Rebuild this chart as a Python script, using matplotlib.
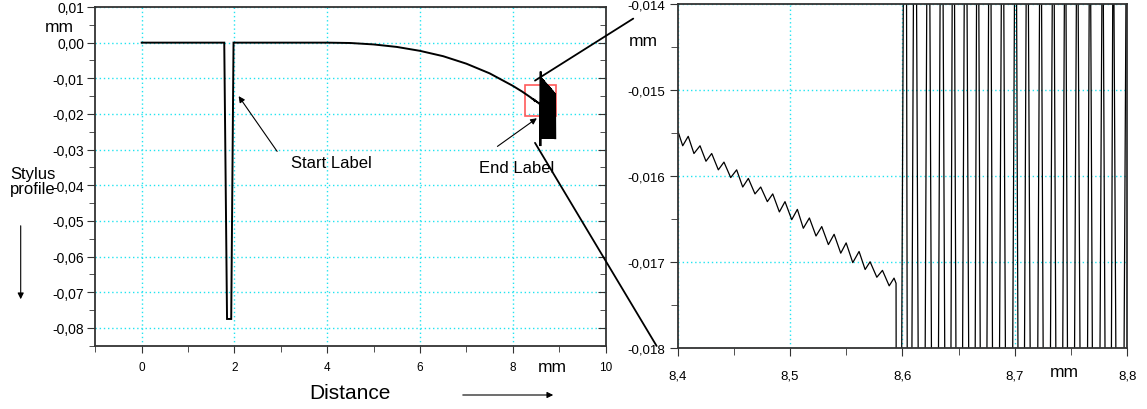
import matplotlib
matplotlib.use("Agg")
import matplotlib.pyplot as plt
from matplotlib.patches import Rectangle, ConnectionPatch
from matplotlib.ticker import FuncFormatter, MultipleLocator

plt.rcParams['font.family'] = ['Liberation Sans', 'DejaVu Sans']

# Profile data (mm)
start_x = [0.0, 1.78, 1.84, 1.93, 1.98, 4.0]
start_y = [0.0, 0.0, -0.0775, -0.0775, 0.0, 0.0]

curve_x = [4.5, 5.0, 5.5, 6.0, 6.5, 7.0, 7.5, 8.0, 8.2]
curve_y = [-0.0001, -0.0005, -0.0012, -0.0023, -0.0038, -0.0059, -0.0086, -0.0121, -0.0137]

ripple_x = [8.4005, 8.4045, 8.4094, 8.4145, 8.4199, 8.4252, 8.4303, 8.4362, 8.4412, 8.4472,
            8.4525, 8.4579, 8.4629, 8.4688, 8.4739, 8.4798, 8.4846, 8.4905, 8.4955, 8.5015,
            8.5065, 8.5118, 8.5172, 8.5231, 8.5282, 8.5341, 8.5392, 8.5451, 8.5499, 8.5558,
            8.5614, 8.5668, 8.5712, 8.5772, 8.5822, 8.5882, 8.5925, 8.5943]
ripple_y = [-0.01549, -0.01565, -0.01554, -0.01574, -0.01565, -0.01583, -0.01574, -0.01593,
            -0.01584, -0.01602, -0.01593, -0.01613, -0.01603, -0.01621, -0.01613, -0.01630,
            -0.01621, -0.01642, -0.01630, -0.01651, -0.01639, -0.01661, -0.01649, -0.01670,
            -0.01659, -0.01680, -0.01668, -0.01690, -0.01678, -0.01701, -0.01688, -0.01709,
            -0.01700, -0.01718, -0.01710, -0.01728, -0.01719, -0.01725]

drop_x = [8.5955]
drop_y = [-0.0290]

# end zone: fast oscillation between an upper and a lower envelope
tail_hi_x = [8.6028, 8.6111, 8.6230, 8.6348, 8.6452, 8.6562, 8.6669, 8.6778, 8.6891, 8.7007,
             8.7110, 8.7229, 8.7342, 8.7448, 8.7555, 8.7668, 8.7781, 8.7875, 8.7994, 8.811,
             8.822, 8.833, 8.844, 8.855, 8.867, 8.878, 8.889, 8.900, 8.911]
tail_hi_y = [-0.0081, -0.0098, -0.0100, -0.0102, -0.0103, -0.0105, -0.0106, -0.0108, -0.0110,
             -0.0112, -0.0113, -0.0115, -0.0116, -0.0118, -0.0120, -0.0121, -0.0123, -0.0124,
             -0.0126, -0.0128, -0.0129, -0.0131, -0.0133, -0.0134, -0.0136, -0.0138, -0.0140,
             -0.0141, -0.0143]
tail_lo_x = [8.6055, 8.6171, 8.6289, 8.6408, 8.6503, 8.6621, 8.6719, 8.6829, 8.6947, 8.7054,
             8.7170, 8.7282, 8.7395, 8.7496, 8.7615, 8.7721, 8.7834, 8.7935, 8.805, 8.816,
             8.828, 8.839, 8.850, 8.861, 8.872, 8.883, 8.894, 8.906, 8.917]
tail_lo_y = [-0.0270, -0.0270, -0.0270, -0.0269, -0.0269, -0.0269, -0.0269, -0.0269, -0.0269,
             -0.0268, -0.0268, -0.0268, -0.0268, -0.0268, -0.0268, -0.0268, -0.0268, -0.0268,
             -0.0268, -0.0268, -0.0268, -0.0268, -0.0268, -0.0268, -0.0268, -0.0268, -0.0268,
             -0.0268, -0.0268]

tail = sorted(zip(tail_hi_x + tail_lo_x, tail_hi_y + tail_lo_y))
profile_x = start_x + curve_x + ripple_x + drop_x + [p[0] for p in tail]
profile_y = start_y + curve_y + ripple_y + drop_y + [p[1] for p in tail]

GRID = '#22e4f0'
SPINE = '#333333'

def comma(fmt):
    def f(v, pos):
        s = format(v, fmt).replace('.', ',')
        if s.startswith('-') and s.strip('-0,') == '':
            s = s[1:]
        return s
    return FuncFormatter(f)

def style(ax):
    for s in ax.spines.values():
        s.set_color(SPINE)
        s.set_linewidth(1.3)
    ax.grid(True, which='major', color=GRID, linestyle=(0, (1, 2)), linewidth=1.0)
    ax.set_axisbelow(True)

fig = plt.figure(figsize=(11.47, 4.10), dpi=100)

# ---- left: whole profile ----
ax1 = fig.add_axes([0.0831, 0.1544, 0.4448, 0.8261])
ax1.plot(profile_x, profile_y, color='black', lw=1.4, solid_joinstyle='miter')
ax1.set_xlim(-1, 10)
ax1.set_ylim(-0.085, 0.01)
ax1.xaxis.set_major_locator(MultipleLocator(2))
ax1.xaxis.set_minor_locator(MultipleLocator(1))
ax1.yaxis.set_major_locator(MultipleLocator(0.01))
ax1.yaxis.set_minor_locator(MultipleLocator(0.005))
ax1.yaxis.set_major_formatter(comma('.2f'))
ax1.tick_params(axis='y', which='both', direction='out', left=True, right=True,
                labelsize=10, pad=2, color=SPINE)
ax1.tick_params(axis='y', which='major', length=6)
ax1.tick_params(axis='y', which='minor', length=4)
ax1.tick_params(axis='x', which='both', direction='out', labelsize=8.5, pad=6, color=SPINE)
ax1.tick_params(axis='x', which='major', length=5)
ax1.tick_params(axis='x', which='minor', length=4)
for t in ax1.yaxis.get_ticklines(minor=False)[1::2] + ax1.yaxis.get_ticklines(minor=True)[1::2]:
    t.set_marker(matplotlib.lines.TICKLEFT)
style(ax1)

ax1.add_patch(Rectangle((8.27, -0.0206), 0.66, 0.0088, fill=False,
                        edgecolor='#ff5a5a', lw=1.2, zorder=1))

arrow = dict(arrowstyle='-|>', color='black', lw=0.8, mutation_scale=9, shrinkA=0, shrinkB=0)
ax1.annotate('', xy=(2.09, -0.0150), xytext=(2.92, -0.0305), arrowprops=arrow)
ax1.text(4.09, -0.0337, 'Start Label', fontsize=12, ha='center', va='center')
ax1.annotate('', xy=(8.52, -0.0212), xytext=(7.67, -0.0291), arrowprops=arrow)
ax1.text(8.09, -0.0351, 'End Label', fontsize=12, ha='center', va='center')

# ---- right: zoom on end of profile ----
ax2 = fig.add_axes([0.5908, 0.1495, 0.392, 0.8383])
ax2.plot(profile_x, profile_y, color='black', lw=0.9)
ax2.set_xlim(8.4, 8.8)
ax2.set_ylim(-0.018, -0.014)
ax2.xaxis.set_major_locator(MultipleLocator(0.1))
ax2.xaxis.set_minor_locator(MultipleLocator(0.05))
ax2.yaxis.set_major_locator(MultipleLocator(0.001))
ax2.yaxis.set_minor_locator(MultipleLocator(0.0005))
ax2.xaxis.set_major_formatter(comma('.1f'))
ax2.yaxis.set_major_formatter(comma('.3f'))
ax2.tick_params(axis='both', which='both', direction='out', labelsize=9.5, color=SPINE)
ax2.tick_params(axis='both', which='major', length=6)
ax2.tick_params(axis='both', which='minor', length=5)
ax2.tick_params(axis='x', pad=10)
ax2.tick_params(axis='y', pad=3)
style(ax2)

# connector lines between the panels
for ya, yb in [(-0.01064, -0.01417), (-0.0281, -0.01798)]:
    xb = 8.3605 if ya > -0.02 else 8.3813
    con = ConnectionPatch(xyA=(8.48, ya), coordsA=ax1.transData,
                          xyB=(xb, yb), coordsB=ax2.transData,
                          color='black', lw=1.3)
    fig.add_artist(con)

# ---- axis titles ----
W, H = 1147, 410
def ftext(x, y, s, **kw):
    fig.text(x / W, 1 - y / H, s, **kw)

ftext(59, 28, 'mm', fontsize=12.5, ha='center', va='center')
ftext(10, 182, 'Stylus\nprofile', fontsize=12, ha='left', va='center', linespacing=1.05)
ftext(552, 368, 'mm', fontsize=12.5, ha='center', va='center')
ftext(350, 394, 'Distance', fontsize=15, ha='center', va='center')
ftext(643, 41, 'mm', fontsize=12.5, ha='center', va='center')
ftext(1064, 373, 'mm', fontsize=12.5, ha='center', va='center')

fig.add_artist(matplotlib.patches.FancyArrowPatch(
    (460 / W, 1 - 396 / H), (556 / W, 1 - 396 / H), transform=fig.transFigure,
    arrowstyle='-|>', mutation_scale=9, color='black', lw=0.8))
fig.add_artist(matplotlib.patches.FancyArrowPatch(
    (20.7 / W, 1 - 224 / H), (20.7 / W, 1 - 303 / H), transform=fig.transFigure,
    arrowstyle='-|>', mutation_scale=9, color='black', lw=0.8))

fig.savefig('out.png', dpi=100)
